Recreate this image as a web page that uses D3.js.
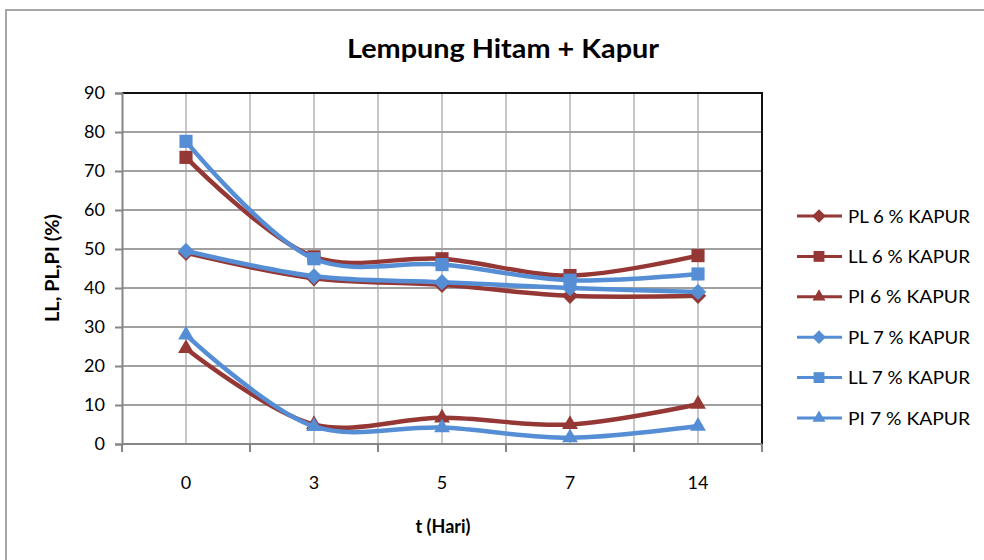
<!DOCTYPE html>
<html>
<head>
<meta charset="utf-8">
<script src="https://cdn.jsdelivr.net/npm/d3@7/dist/d3.min.js"></script>
<style>
  html, body { margin: 0; padding: 0; background: #fff; }
  svg { display: block; }
  text { font-family: Lato, "Open Sans", "Noto Sans", sans-serif; fill: #000; }
</style>
</head>
<body>
<svg id="chart" width="984" height="560"></svg>
<script>
// Curing time (days) on the category axis
const days = ["0", "3", "5", "7", "14"];
// Value axis ticks (%)
const yTicks = [0, 10, 20, 30, 40, 50, 60, 70, 80, 90];

// Atterberg limits for black clay + lime
const pl6 = [49, 42.5, 40.8, 38, 38];
const ll6 = [73.5, 48, 47.5, 43.2, 48.3];
const pi6 = [24.5, 5, 6.7, 5, 10.2];
const pl7 = [49.5, 43, 41.5, 40, 39];
const ll7 = [77.6, 47.5, 46, 42, 43.6];
const pi7 = [28, 4.5, 4.2, 1.6, 4.6];

const seriesNames = ["PL 6 % KAPUR", "LL 6 % KAPUR", "PI 6 % KAPUR",
                     "PL 7 % KAPUR", "LL 7 % KAPUR", "PI 7 % KAPUR"];

const RED = "#953735", BLUE = "#558ED5";
const series = [
  { name: seriesNames[0], values: pl6, color: RED,  marker: "diamond" },
  { name: seriesNames[1], values: ll6, color: RED,  marker: "square" },
  { name: seriesNames[2], values: pi6, color: RED,  marker: "triangle" },
  { name: seriesNames[3], values: pl7, color: BLUE, marker: "diamond" },
  { name: seriesNames[4], values: ll7, color: BLUE, marker: "square" },
  { name: seriesNames[5], values: pi7, color: BLUE, marker: "triangle" }
];

const svg = d3.select("#chart");

// Chart frame
svg.append("rect")
  .attr("x", 6).attr("y", 10).attr("width", 990).attr("height", 560)
  .attr("fill", "#fff").attr("stroke", "#a6a6a6").attr("stroke-width", 2);

const plot = { left: 122, right: 762, top: 93, bottom: 444 };

const x = d3.scaleBand().domain(days).range([plot.left, plot.right]);
const y = d3.scaleLinear().domain([0, 90]).range([plot.bottom, plot.top]);

const g = svg.append("g");

// Vertical gridlines at category boundaries and centres
const vLines = [];
days.forEach(d => { vLines.push(x(d)); vLines.push(x(d) + x.bandwidth() / 2); });
vLines.push(plot.right);
g.selectAll(".vgrid").data(vLines.slice(1, -1)).join("line")
  .attr("x1", d => d).attr("x2", d => d)
  .attr("y1", plot.top).attr("y2", plot.bottom)
  .attr("stroke", "#c8c8c8").attr("stroke-width", 2);

// Horizontal gridlines
g.selectAll(".hgrid").data(yTicks.slice(1)).join("line")
  .attr("x1", plot.left).attr("x2", plot.right)
  .attr("y1", d => y(d)).attr("y2", d => y(d))
  .attr("stroke", "#a0a0a0").attr("stroke-width", 2);

// Plot area top and right border
g.append("path")
  .attr("d", `M${plot.left},${plot.top}H${plot.right}V${plot.bottom}`)
  .attr("fill", "none").attr("stroke", "#111").attr("stroke-width", 2);

// Y axis
const yAxis = svg.append("g")
  .attr("transform", `translate(${plot.left},0)`)
  .call(d3.axisLeft(y).tickValues(yTicks).tickSize(7).tickPadding(10).tickFormat(d3.format("d")));
yAxis.select(".domain").attr("stroke", "#868686").attr("stroke-width", 2);
yAxis.selectAll(".tick line").attr("stroke", "#868686").attr("stroke-width", 2);
yAxis.selectAll(".tick text")
  .attr("font-size", 18).attr("font-family", "Lato, sans-serif").attr("fill", "#000");

// X axis: ticks on category boundaries, labels at centres
const xAxis = svg.append("g").attr("transform", `translate(0,${plot.bottom})`);
xAxis.append("line")
  .attr("x1", plot.left).attr("x2", plot.right)
  .attr("stroke", "#868686").attr("stroke-width", 2);
const edges = days.map(d => x(d)).concat([plot.right]);
xAxis.selectAll(".xt").data(edges).join("line")
  .attr("x1", d => d).attr("x2", d => d).attr("y1", 0).attr("y2", 8)
  .attr("stroke", "#868686").attr("stroke-width", 2);
xAxis.selectAll(".xl").data(days).join("text")
  .attr("x", d => x(d) + x.bandwidth() / 2).attr("y", 45)
  .attr("text-anchor", "middle").attr("font-size", 18)
  .text(d => d);

// Series lines (smoothed)
const line = d3.line()
  .x((v, i) => x(days[i]) + x.bandwidth() / 2)
  .y(v => y(v))
  .curve(d3.curveCatmullRom.alpha(0.5));

const sym = {
  diamond: d3.symbol().type(d3.symbolDiamond2).size(170),
  square: d3.symbol().type(d3.symbolSquare2).size(220),
  triangle: d3.symbol().type(d3.symbolTriangle2).size(180)
};

const sg = svg.append("g").selectAll("g").data(series).join("g");
sg.append("path")
  .attr("d", s => line(s.values))
  .attr("fill", "none").attr("stroke", s => s.color)
  .attr("stroke-width", 4.5).attr("stroke-linejoin", "round");
sg.selectAll(".m").data(s => s.values.map((v, i) => ({ v, i, s }))).join("path")
  .attr("transform", d => `translate(${x(days[d.i]) + x.bandwidth() / 2},${y(d.v)})`)
  .attr("d", d => sym[d.s.marker]())
  .attr("fill", d => d.s.color);

// Legend
const lg = svg.append("g").attr("transform", "translate(797,216)");
const item = lg.selectAll("g").data(series).join("g")
  .attr("transform", (d, i) => `translate(0,${i * 40.4})`);
item.append("line").attr("x1", 0).attr("x2", 45)
  .attr("stroke", d => d.color).attr("stroke-width", 3);
item.append("path")
  .attr("transform", "translate(22,0)")
  .attr("d", d => d3.symbol().type(
      d.marker === "diamond" ? d3.symbolDiamond2 :
      d.marker === "square" ? d3.symbolSquare2 : d3.symbolTriangle2)
    .size(d.marker === "square" ? 150 : 120)())
  .attr("fill", d => d.color);
item.append("text").attr("x", 51).attr("y", 6.5)
  .attr("font-size", 18).attr("textLength", 122).attr("lengthAdjust", "spacingAndGlyphs")
  .text(d => d.name);

// Titles
svg.append("text").attr("x", 503).attr("y", 58)
  .attr("text-anchor", "middle").attr("font-size", 27).attr("font-weight", "bold")
  .attr("textLength", 312).attr("lengthAdjust", "spacingAndGlyphs")
  .text("Lempung Hitam + Kapur");
svg.append("text").attr("x", 443).attr("y", 533)
  .attr("text-anchor", "middle").attr("font-size", 18).attr("font-weight", "bold")
  .text("t (Hari)");
svg.append("text")
  .attr("transform", "translate(59,268) rotate(-90)")
  .attr("text-anchor", "middle").attr("font-size", 18).attr("font-weight", "bold")
  .attr("textLength", 108).attr("lengthAdjust", "spacingAndGlyphs")
  .text("LL, PL,PI (%)");
</script>
</body>
</html>
